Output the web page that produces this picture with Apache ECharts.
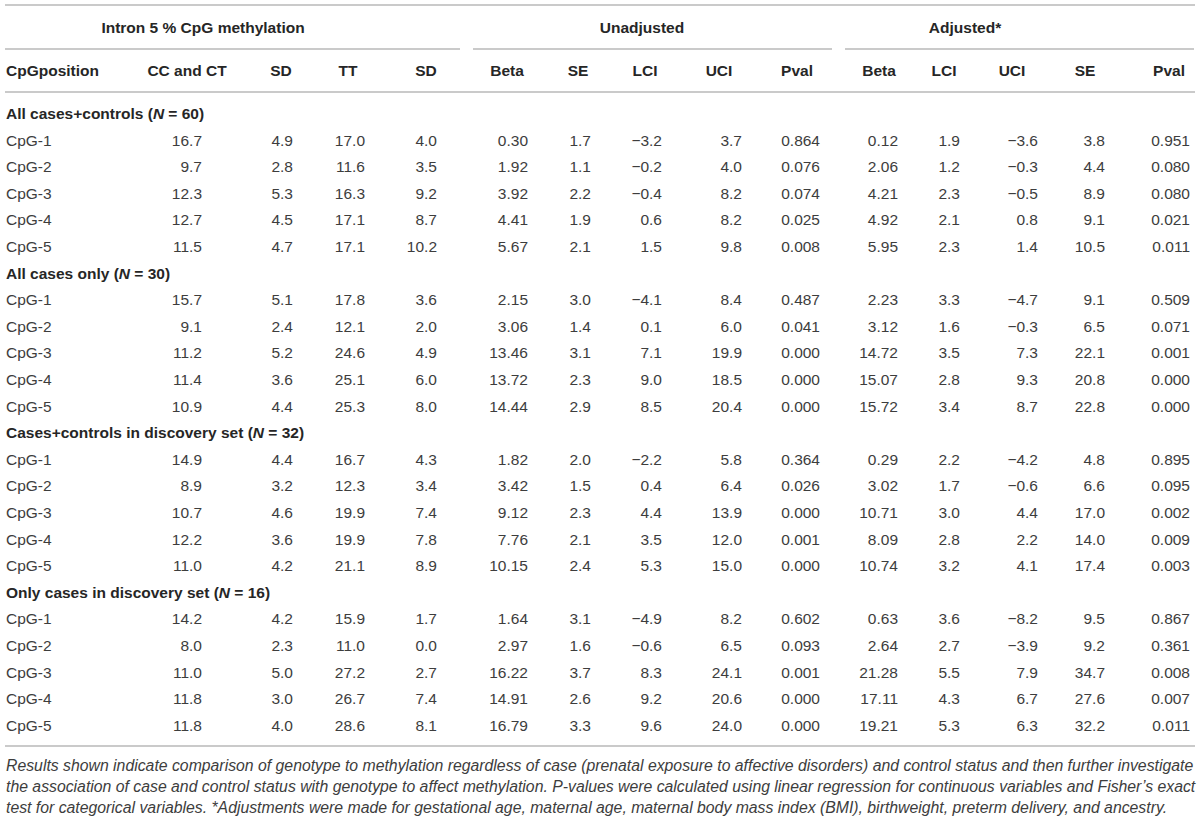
<!DOCTYPE html>
<html>
<head>
<meta charset="utf-8">
<script src="https://cdn.jsdelivr.net/npm/echarts@6/dist/echarts.min.js"></script>
<style>
  html, body { margin: 0; padding: 0; background: #fff; }
  #main { width: 1200px; height: 819px; }
</style>
</head>
<body>
<div id="main"></div>
<script>
// table values
const groupHeaders = ['Intron 5 % CpG methylation', 'Unadjusted', 'Adjusted*']
const colHeaders = ['CpGposition', 'CC and CT', 'SD', 'TT', 'SD', 'Beta', 'SE', 'LCI', 'UCI', 'Pval', 'Beta', 'LCI', 'UCI', 'SE', 'Pval']
const sectionTitles = ['All cases+controls', 'All cases only', 'Cases+controls in discovery set', 'Only cases in discovery set']
const sectionN = [60, 30, 32, 16]
const cpgLabels = ['CpG-1', 'CpG-2', 'CpG-3', 'CpG-4', 'CpG-5']

const allCasesControls = [
  [16.7, 4.9, 17.0, 4.0, 0.30, 1.7, -3.2, 3.7, 0.864, 0.12, 1.9, -3.6, 3.8, 0.951],
  [9.7, 2.8, 11.6, 3.5, 1.92, 1.1, -0.2, 4.0, 0.076, 2.06, 1.2, -0.3, 4.4, 0.080],
  [12.3, 5.3, 16.3, 9.2, 3.92, 2.2, -0.4, 8.2, 0.074, 4.21, 2.3, -0.5, 8.9, 0.080],
  [12.7, 4.5, 17.1, 8.7, 4.41, 1.9, 0.6, 8.2, 0.025, 4.92, 2.1, 0.8, 9.1, 0.021],
  [11.5, 4.7, 17.1, 10.2, 5.67, 2.1, 1.5, 9.8, 0.008, 5.95, 2.3, 1.4, 10.5, 0.011]
]
const allCasesOnly = [
  [15.7, 5.1, 17.8, 3.6, 2.15, 3.0, -4.1, 8.4, 0.487, 2.23, 3.3, -4.7, 9.1, 0.509],
  [9.1, 2.4, 12.1, 2.0, 3.06, 1.4, 0.1, 6.0, 0.041, 3.12, 1.6, -0.3, 6.5, 0.071],
  [11.2, 5.2, 24.6, 4.9, 13.46, 3.1, 7.1, 19.9, 0.000, 14.72, 3.5, 7.3, 22.1, 0.001],
  [11.4, 3.6, 25.1, 6.0, 13.72, 2.3, 9.0, 18.5, 0.000, 15.07, 2.8, 9.3, 20.8, 0.000],
  [10.9, 4.4, 25.3, 8.0, 14.44, 2.9, 8.5, 20.4, 0.000, 15.72, 3.4, 8.7, 22.8, 0.000]
]
const discoveryCasesControls = [
  [14.9, 4.4, 16.7, 4.3, 1.82, 2.0, -2.2, 5.8, 0.364, 0.29, 2.2, -4.2, 4.8, 0.895],
  [8.9, 3.2, 12.3, 3.4, 3.42, 1.5, 0.4, 6.4, 0.026, 3.02, 1.7, -0.6, 6.6, 0.095],
  [10.7, 4.6, 19.9, 7.4, 9.12, 2.3, 4.4, 13.9, 0.000, 10.71, 3.0, 4.4, 17.0, 0.002],
  [12.2, 3.6, 19.9, 7.8, 7.76, 2.1, 3.5, 12.0, 0.001, 8.09, 2.8, 2.2, 14.0, 0.009],
  [11.0, 4.2, 21.1, 8.9, 10.15, 2.4, 5.3, 15.0, 0.000, 10.74, 3.2, 4.1, 17.4, 0.003]
]
const discoveryCasesOnly = [
  [14.2, 4.2, 15.9, 1.7, 1.64, 3.1, -4.9, 8.2, 0.602, 0.63, 3.6, -8.2, 9.5, 0.867],
  [8.0, 2.3, 11.0, 0.0, 2.97, 1.6, -0.6, 6.5, 0.093, 2.64, 2.7, -3.9, 9.2, 0.361],
  [11.0, 5.0, 27.2, 2.7, 16.22, 3.7, 8.3, 24.1, 0.001, 21.28, 5.5, 7.9, 34.7, 0.008],
  [11.8, 3.0, 26.7, 7.4, 14.91, 2.6, 9.2, 20.6, 0.000, 17.11, 4.3, 6.7, 27.6, 0.007],
  [11.8, 4.0, 28.6, 8.1, 16.79, 3.3, 9.6, 24.0, 0.000, 19.21, 5.3, 6.3, 32.2, 0.011]
]
const sectionValues = [allCasesControls, allCasesOnly, discoveryCasesControls, discoveryCasesOnly]
const decimals = [1, 1, 1, 1, 2, 1, 1, 1, 3, 2, 1, 1, 1, 3]

const footnote = [
  'Results shown indicate comparison of genotype to methylation regardless of case (prenatal exposure to affective disorders) and control status and then further investigate',
  'the association of case and control status with genotype to affect methylation. P-values were calculated using linear regression for continuous variables and Fisher\u2019s exact',
  'test for categorical variables. *Adjustments were made for gestational age, maternal age, maternal body mass index (BMI), birthweight, preterm delivery, and ancestry.'
]

// layout (x in axis units = pixels)
const labelX = 6
const colRight = [202, 293, 365, 437, 528, 591, 662, 742, 820, 898, 960, 1038, 1105, 1190]
const headCenter = [187, 281, 348, 426, 507, 578, 645, 719, 797, 879, 944, 1012, 1085, 1169]
const groupCenter = [203, 642, 965]
const groupSpan = [[5, 460], [473, 832], [845, 1194]]

const FONT = '"Liberation Sans", Arial, Helvetica, sans-serif'
const headColor = '#262626'
const bodyColor = '#3d3d3d'
const ruleColor = '#cacaca'

function fmt(v, d) {
  return (v < 0 ? '\u2212' : '') + Math.abs(v).toFixed(d)
}

// flatten into table rows
const rows = []
sectionTitles.forEach((t, s) => {
  rows.push({ type: 'section', title: t, n: sectionN[s] })
  sectionValues[s].forEach((vals, k) => {
    rows.push({ type: 'data', label: cpgLabels[k], vals: vals })
  })
})

const chart = echarts.init(document.getElementById('main'), null, { renderer: 'svg' })

const graphics = []
function hline(x1, x2, y) {
  graphics.push({ type: 'line', shape: { x1: x1, y1: y, x2: x2, y2: y }, style: { stroke: ruleColor, lineWidth: 2 }, silent: true })
}
hline(5, 1195, 5)
groupSpan.forEach(s => hline(s[0], s[1], 49))
hline(5, 1195, 92)
hline(5, 1195, 746)

groupHeaders.forEach((g, i) => {
  graphics.push({
    type: 'text', x: groupCenter[i], y: 27,
    style: { text: g, fill: headColor, font: 'bold 15.5px ' + FONT, textAlign: 'center', textVerticalAlign: 'middle' }
  })
})
colHeaders.forEach((h, i) => {
  graphics.push({
    type: 'text', x: i === 0 ? labelX : headCenter[i - 1], y: 70,
    style: { text: h, fill: headColor, font: 'bold 15.5px ' + FONT, textAlign: i === 0 ? 'left' : 'center', textVerticalAlign: 'middle' }
  })
})
footnote.forEach((f, i) => {
  graphics.push({
    type: 'text', x: labelX, y: 765 + i * 21,
    style: { text: f, fill: bodyColor, font: 'italic 15.8px ' + FONT, textAlign: 'left', textVerticalAlign: 'middle' }
  })
})

function renderRow(params, api) {
  const row = rows[params.dataIndex]
  const yIdx = api.value(1)
  const children = []
  const p0 = api.coord([labelX, yIdx])
  if (row.type === 'section') {
    children.push({
      type: 'text',
      style: {
        x: p0[0], y: p0[1],
        text: '{b|' + row.title + ' (}{i|N}{b| = ' + row.n + ')}',
        verticalAlign: 'middle', align: 'left',
        rich: {
          b: { fontFamily: FONT, fontSize: 15.5, fontWeight: 'bold', fill: headColor, color: headColor },
          i: { fontFamily: FONT, fontSize: 15.5, fontWeight: 'bold', fontStyle: 'italic', fill: headColor, color: headColor }
        }
      }
    })
  } else {
    children.push({
      type: 'text',
      style: { x: p0[0], y: p0[1], text: row.label, fill: bodyColor, font: '15.5px ' + FONT, align: 'left', verticalAlign: 'middle' }
    })
    row.vals.forEach((v, j) => {
      const p = api.coord([colRight[j], yIdx])
      children.push({
        type: 'text',
        style: { x: p[0], y: p[1], text: fmt(v, decimals[j]), fill: bodyColor, font: '15.5px ' + FONT, align: 'right', verticalAlign: 'middle' }
      })
    })
  }
  return { type: 'group', children: children }
}

chart.setOption({
  animation: false,
  backgroundColor: '#fff',
  grid: { left: 0, right: 0, top: 100.2, bottom: 80.4 },
  xAxis: { type: 'value', min: 0, max: 1200, show: false },
  yAxis: { type: 'category', data: rows.map((r, i) => String(i)), inverse: true, show: false },
  series: [{
    type: 'custom',
    renderItem: renderRow,
    data: rows.map((r, i) => [0, i]),
    encode: { x: 0, y: 1 },
    silent: true
  }],
  graphic: graphics
})
</script>
</body>
</html>
